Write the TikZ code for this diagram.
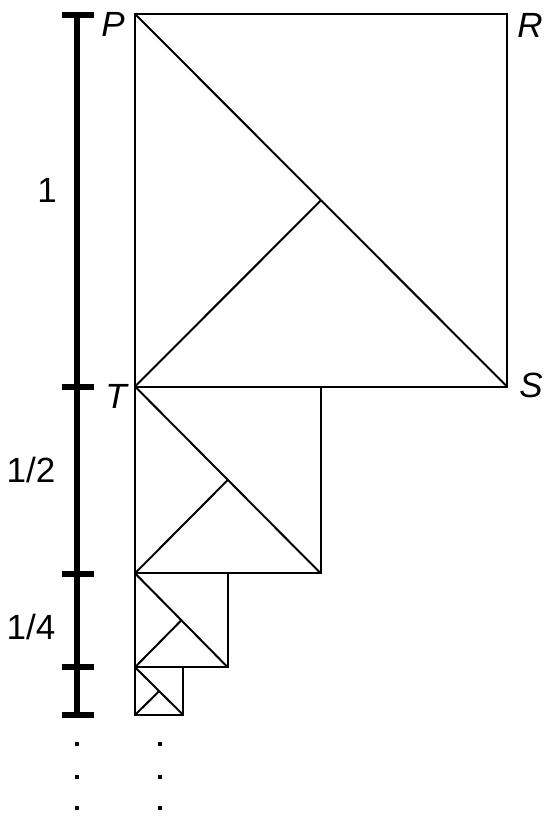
\documentclass[tikz,border=0pt]{standalone}
\usepackage{fontspec}
\setmainfont{Liberation Sans}
\usetikzlibrary{calc}
\begin{document}
\begin{tikzpicture}[x=1pt,y=-1pt,
  thin line/.style={line width=2pt,line join=miter},
  barline/.style={line width=6pt},
  lbl/.style={font=\fontsize{35}{42}\selectfont\itshape,inner sep=0pt},
  numlbl/.style={font=\fontsize{35}{42}\selectfont,inner sep=0pt},
  dotmark/.style={fill=black,minimum size=4pt,inner sep=0pt,draw=none,rectangle}]
\useasboundingbox (0,0) rectangle (554,825);
% square corners
\coordinate (P) at (135,14);
\coordinate (R) at (507,14);
\coordinate (S) at (507,386.5);
\coordinate (T) at (135,386.5);
\coordinate (A2) at (320.7,386.5);
\coordinate (B2) at (320.7,573.3);
\coordinate (C2) at (135,573.3);
\coordinate (A3) at (227.7,573.3);
\coordinate (B3) at (227.7,667.2);
\coordinate (C3) at (135,667.2);
\coordinate (A4) at (183.3,667.2);
\coordinate (B4) at (183.3,715);
\coordinate (C4) at (135,715);
\coordinate (M1) at ($(P)!0.5!(S)$);
\coordinate (M2) at ($(T)!0.5!(B2)$);
\coordinate (M3) at ($(C2)!0.5!(B3)$);
\coordinate (M4) at ($(C3)!0.5!(B4)$);
% squares
\draw[thin line] (P) -- (R) -- (S) -- (T) -- cycle;
\draw[thin line] (P) -- (S);
\draw[thin line] (T) -- (M1);
\draw[thin line] (T) -- (A2) -- (B2) -- (C2) -- cycle;
\draw[thin line] (T) -- (B2);
\draw[thin line] (C2) -- (M2);
\draw[thin line] (C2) -- (A3) -- (B3) -- (C3) -- cycle;
\draw[thin line] (C2) -- (B3);
\draw[thin line] (C3) -- (M3);
\draw[thin line] (C3) -- (A4) -- (B4) -- (C4) -- cycle;
\draw[thin line] (C3) -- (B4);
\draw[thin line] (C4) -- (M4);
% scale bar
\coordinate (bt) at (76.5,15);
\coordinate (bb) at (76.5,715);
\draw[barline] (bt) -- (bb);
\foreach \y in {15,386.7,573.8,667.3,714.5}{
  \draw[barline] (62,\y) -- (93.5,\y);
}
% labels
\node[lbl] (lP) at (113,24) {P};
\node[lbl] (lR) at (530,25) {R};
\node[lbl] (lS) at (531,385) {S};
\node[lbl] (lT) at (116,396) {T};
\node[numlbl] (l1) at (47,190) {1};
\node[numlbl] (l2) at (31,470) {1/2};
\node[numlbl] (l4) at (31,627) {1/4};
% dots
\foreach \y [count=\i] in {744,777,808}{
  \node[dotmark] (dl\i) at (76.5,\y) {};
  \node[dotmark] (dr\i) at (160,\y) {};
}
\end{tikzpicture}
\end{document}
